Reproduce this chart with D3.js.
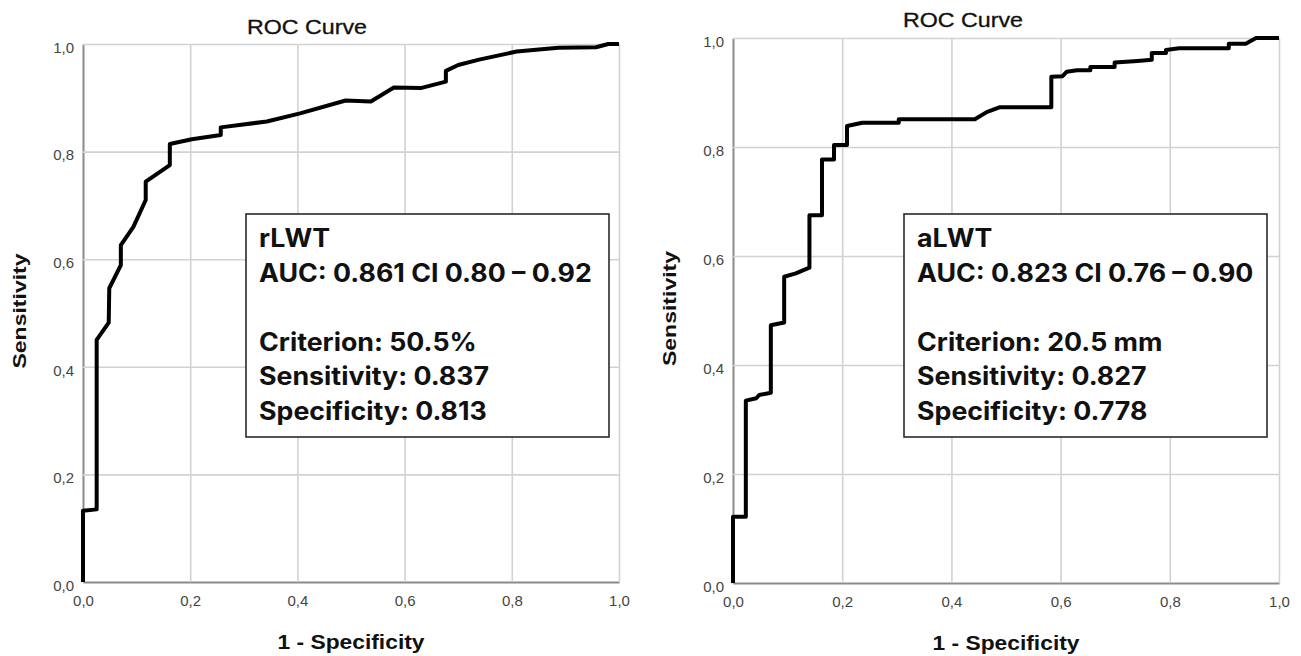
<!DOCTYPE html>
<html lang="en">
<head>
<meta charset="utf-8">
<title>ROC curves: rLWT and aLWT</title>
<script src="https://cdn.jsdelivr.net/npm/d3@7"></script>
<style>
  body { margin: 0; background: #fff; }
  svg { display: block; }
</style>
</head>
<body>
<script>
// tick positions shared by both axes of both panels
var ticks = [0, 0.2, 0.4, 0.6, 0.8, 1.0];

// rLWT curve (1 - specificity, sensitivity)
var rlwtFpr = [0, 0, 0.0255, 0.0255, 0.048, 0.049, 0.0706, 0.0706, 0.094, 0.117, 0.117, 0.162, 0.162,
               0.203, 0.257, 0.257, 0.343, 0.405, 0.490, 0.537, 0.580, 0.630, 0.677, 0.677, 0.700,
               0.739, 0.809, 0.887, 0.957, 0.980, 1.0];
var rlwtTpr = [0, 0.1325, 0.135, 0.45, 0.482, 0.546, 0.589, 0.626, 0.660, 0.710, 0.744, 0.775, 0.814,
               0.823, 0.831, 0.845, 0.856, 0.871, 0.895, 0.893, 0.919, 0.918, 0.930, 0.950, 0.961,
               0.971, 0.986, 0.993, 0.994, 1.0, 1.0];

// aLWT curve
var alwtFpr = [0, 0, 0.0235, 0.0235, 0.0426, 0.048, 0.0693, 0.0693, 0.0937, 0.0937, 0.115, 0.140, 0.140,
               0.163, 0.163, 0.185, 0.185, 0.2088, 0.2088, 0.237, 0.3036, 0.3036, 0.443, 0.4646, 0.489,
               0.583, 0.583, 0.6035, 0.611, 0.630, 0.6545, 0.6545, 0.699, 0.699, 0.741, 0.767, 0.767,
               0.793, 0.793, 0.817, 0.908, 0.908, 0.939, 0.958, 1.0];
var alwtTpr = [0, 0.1217, 0.1217, 0.3346, 0.339, 0.345, 0.349, 0.473, 0.478, 0.562, 0.568, 0.5786, 0.675,
               0.675, 0.777, 0.777, 0.8037, 0.8037, 0.8385, 0.8446, 0.8446, 0.851, 0.851, 0.864, 0.873,
               0.873, 0.929, 0.930, 0.938, 0.941, 0.941, 0.947, 0.947, 0.955, 0.958, 0.96, 0.9725,
               0.9725, 0.978, 0.981, 0.981, 0.9895, 0.9895, 1.0, 1.0];

// annotation text for each panel
var rlwtNotes = ["rLWT", "AUC: 0.861 CI 0.80 \u2013 0.92", "", "Criterion: 50.5%", "Sensitivity: 0.837", "Specificity: 0.813"];
var alwtNotes = ["aLWT", "AUC: 0.823 CI 0.76 \u2013 0.90", "", "Criterion: 20.5 mm", "Sensitivity: 0.827", "Specificity: 0.778"];

var title = "ROC Curve";
var xTitle = "1 - Specificity";
var yTitle = "Sensitivity";

var W = 1301, H = 656;

var svg = d3.select("body")
            .append("svg")
            .attr("width", W)
            .attr("height", H);

svg.append("rect").attr("width", W).attr("height", H).attr("fill", "#fff");

// comma decimal, like the original
var fmt = d3.formatLocale({decimal: ",", thousands: ".", grouping: [3], currency: ["", ""]}).format(".1f");

function drawRoc(p) {
    var xScale = d3.scaleLinear().domain([0, 1]).range([p.left, p.right]);
    var yScale = d3.scaleLinear().domain([0, 1]).range([p.bottom, p.top]);
    var w = p.right - p.left, h = p.bottom - p.top;

    var g = svg.append("g");

    // grid + x ticks
    var gx = g.append("g")
              .attr("transform", "translate(0," + p.bottom + ")")
              .call(d3.axisBottom(xScale).tickValues(ticks).tickSize(-h).tickSizeOuter(0)
                      .tickPadding(13).tickFormat(fmt));
    // grid + y ticks
    var gy = g.append("g")
              .attr("transform", "translate(" + p.left + ",0)")
              .call(d3.axisLeft(yScale).tickValues(ticks).tickSize(-w).tickSizeOuter(0)
                      .tickPadding(9).tickFormat(fmt));

    [gx, gy].forEach(function(a) {
        a.selectAll(".tick line").attr("stroke", "#d2d2d2").attr("stroke-width", 1.6);
        a.selectAll(".tick text")
         .attr("font-family", "'Liberation Sans', Arial, sans-serif")
         .attr("font-size", "15px")
         .attr("fill", "#444");
        a.select(".domain").attr("stroke", "#8a8a8a").attr("stroke-width", 2);
    });
    gy.selectAll(".tick text").attr("dy", "0.55em");
    gy.selectAll(".tick line").filter(function(d) { return d === 0; }).remove();
    gx.selectAll(".tick line").filter(function(d) { return d === 0; }).remove();

    // title
    g.append("text")
     .attr("x", p.titleX).attr("y", p.titleY)
     .attr("text-anchor", "middle")
     .attr("font-family", "'Liberation Sans', Arial, sans-serif")
     .attr("font-size", "19.5px")
     .attr("fill", "#111")
     .attr("stroke", "#111").attr("stroke-width", 0.3)
     .attr("textLength", 120).attr("lengthAdjust", "spacingAndGlyphs")
     .text(title);

    // x title
    g.append("text")
     .attr("x", (p.left + p.right) / 2).attr("y", p.bottom + 67)
     .attr("text-anchor", "middle")
     .attr("font-family", "'Liberation Sans', Arial, sans-serif")
     .attr("font-weight", "bold")
     .attr("font-size", "20px")
     .attr("fill", "#111")
     .attr("textLength", 147).attr("lengthAdjust", "spacingAndGlyphs")
     .text(xTitle);

    // y title
    g.append("text")
     .attr("transform", "translate(" + (p.left - 57) + "," + ((p.top + p.bottom) / 2 - 2) + ") rotate(-90)")
     .attr("text-anchor", "middle")
     .attr("font-family", "'Liberation Sans', Arial, sans-serif")
     .attr("font-weight", "bold")
     .attr("font-size", "19px")
     .attr("fill", "#111")
     .attr("textLength", 115).attr("lengthAdjust", "spacingAndGlyphs")
     .text(yTitle);

    // the curve
    var pts = p.fpr.map(function(d, i) { return [d, p.tpr[i]]; });
    var line = d3.line()
                 .x(function(d) { return xScale(d[0]); })
                 .y(function(d) { return yScale(d[1]); });
    g.append("path")
     .datum(pts)
     .attr("d", line)
     .attr("fill", "none")
     .attr("stroke", "#000")
     .attr("stroke-width", 4)
     .attr("stroke-linejoin", "round");

    // annotation box
    var box = g.append("g").attr("transform", "translate(" + p.boxX + "," + p.boxY + ")");
    box.append("rect")
       .attr("width", p.boxW).attr("height", p.boxH)
       .attr("fill", "#fff")
       .attr("stroke", "#2a2a2a")
       .attr("stroke-width", 1.6);
    box.selectAll("text")
       .data(p.notes)
       .enter()
       .append("text")
       .attr("x", 13)
       .attr("y", function(d, i) { return 33 + i * 34.6; })
       .attr("font-family", "Inter, 'Noto Sans', sans-serif")
       .attr("font-weight", 700)
       .attr("font-size", "25px")
       .attr("fill", "#111")
       .text(function(d) { return d; })
       .each(function(d) {
           // the original face runs a little wider than Inter
           if (!d) return;
           var len = this.getComputedTextLength();
           d3.select(this).attr("textLength", len * 1.07).attr("lengthAdjust", "spacingAndGlyphs");
       });
}

drawRoc({left: 83, right: 619, top: 44, bottom: 582, titleX: 307, titleY: 34,
         fpr: rlwtFpr, tpr: rlwtTpr, notes: rlwtNotes,
         boxX: 246, boxY: 214, boxW: 363, boxH: 223});

drawRoc({left: 733, right: 1279, top: 38, bottom: 583, titleX: 963, titleY: 27,
         fpr: alwtFpr, tpr: alwtTpr, notes: alwtNotes,
         boxX: 904, boxY: 214, boxW: 363, boxH: 223});
</script>
</body>
</html>
